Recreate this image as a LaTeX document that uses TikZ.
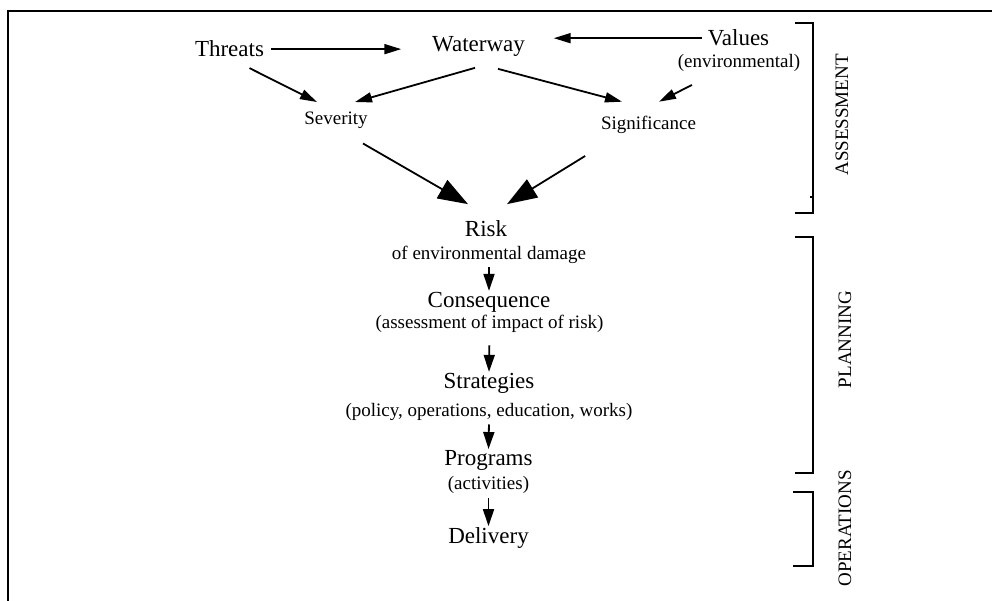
\documentclass[tikz,border=0pt]{standalone}
\usepackage{fontspec}
\setmainfont{Liberation Serif}
\usetikzlibrary{arrows.meta}

\begin{document}
\begin{tikzpicture}[x=1pt,y=1pt,line width=1.8pt,
	mainlbl/.style={inner sep=0pt,anchor=base,font=\fontsize{23}{27}\selectfont},
	sublbl/.style={inner sep=0pt,anchor=base,font=\fontsize{19}{23}\selectfont},
	sidelbl/.style={inner sep=0pt,rotate=90,font=\fontsize{19}{23}\selectfont},
	arr/.style={-{Triangle[length=17pt,width=10pt]}},
	bigarr/.style={-{Triangle[length=30pt,width=21pt]}},
	downarr/.style={-{Triangle[length=17pt,width=11pt]},shorten <=3pt,shorten >=1pt}]
	\useasboundingbox (0,0) rectangle (992,601);
	%frame
	\draw[line width=2pt] (992,590) -- (7.5,590) -- (7.5,0);

	%assessment labels
	\node[mainlbl] (threats) at (229.5,544) {Threats};
	\node[mainlbl] (waterway) at (478.5,549) {Waterway};
	\node[mainlbl] (values) at (738.5,555) {Values};
	\node[sublbl] (valuesnote) at (739,533) {(environmental)};
	\node[sublbl] (severity) at (336,476.5) {Severity};
	\node[sublbl] (significance) at (648.5,471) {Significance};

	%chain labels
	\node[mainlbl] (risk) at (486,364) {Risk};
	\node[sublbl] (risknote) at (489,341.5) {of environmental damage};
	\node[mainlbl] (consequence) at (489,293) {Consequence};
	\node[sublbl] (consnote) at (489.5,272.5) {(assessment of impact of risk)};
	\node[mainlbl] (strategies) at (489,212) {Strategies};
	\node[sublbl] (stratnote) at (489,184.5) {(policy, operations, education, works)};
	\node[mainlbl] (programs) at (488.5,135) {Programs};
	\node[sublbl] (prognote) at (488.5,111) {(activities)};
	\node[mainlbl] (delivery) at (488.5,57) {Delivery};

	%top arrows
	\draw[arr,shorten <=6pt,shorten >=30pt] (threats.east) -- (threats.east -| waterway.west); %threats to waterway
	\draw[arr,shorten <=5pt,shorten >=28pt] (values.west) -- (values.west -| waterway.east); %values to waterway
	\draw[arr] ([shift={(20,-10)}]threats.south) -- ([shift={(-19,9)}]severity.north); %threats to severity
	\draw[arr] ([shift={(-3.5,-10)}]waterway.south) -- ([shift={(19,9)}]severity.north); %waterway to severity
	\draw[arr] ([shift={(19.5,-11)}]waterway.south) -- ([shift={(-26.5,14)}]significance.north); %waterway to significance
	\draw[arr] ([shift={(15,-12)}]valuesnote.south west) -- ([shift={(10.5,14)}]significance.north); %values to significance

	%big arrows
	\draw[bigarr] ([shift={(27,-14)}]severity.south) -- ([shift={(-18,16)}]risk.north); %severity to risk
	\draw[bigarr] ([shift={(-15,-21)}]significance.south west) -- ([shift={(21,16)}]risk.north); %significance to risk

	%down arrows
	\draw[downarr] (risknote.south) -- (consequence.north);
	\draw[downarr,shorten <=12pt] (consnote.south) -- (strategies.north);
	\draw[downarr] (stratnote.south) -- (programs.north);
	\draw[downarr] (prognote.south) -- (delivery.north);

	%brackets
	\draw (795,578) -| (813,388) -- (795,388); %assessment
	\draw[line width=1.5pt] (810,404) -- (813,404); %dot
	\draw (795,364) -| (813,128) -- (795,128); %planning
	\draw (793,109) -| (813,35) -- (793,35); %operations

	%side labels
	\node[sidelbl] (assesslbl) at (842,486) {ASSESSMENT};
	\node[sidelbl] (planlbl) at (845,261.5) {PLANNING};
	\node[sidelbl] (opslbl) at (845,72.5) {OPERATIONS};
\end{tikzpicture}
\end{document}
